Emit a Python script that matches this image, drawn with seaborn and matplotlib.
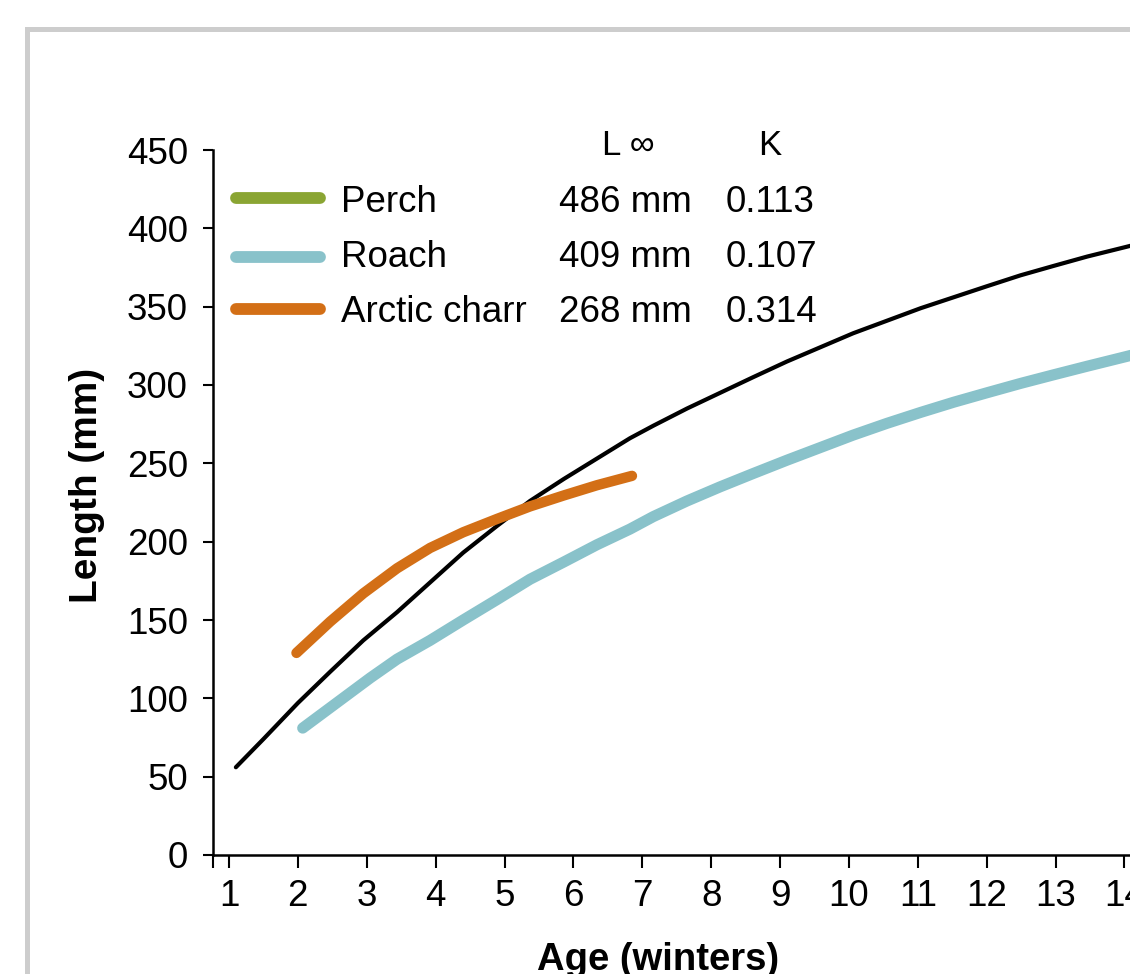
import numpy as np
import pandas as pd
import matplotlib
matplotlib.use("Agg")
import matplotlib.pyplot as plt
import seaborn as sns
from matplotlib.lines import Line2D
from matplotlib.patches import Rectangle

# ---- data ----
species = ["Perch", "Roach", "Arctic charr"]
linf_labels = ["486 mm", "409 mm", "268 mm"]
k_labels = ["0.113", "0.107", "0.314"]

perch_age = [1.10, 1.5, 2.0, 2.47, 2.95, 3.44, 3.92, 4.40, 4.89, 5.37, 5.86, 6.34,
             6.82, 7.16, 7.65, 8.13, 8.61, 9.10, 9.58, 10.06, 10.55, 11.04, 11.52,
             12.0, 12.49, 12.97, 13.46, 14.01, 14.1]
perch_len = [56, 74, 97, 117, 137, 155, 174, 193, 210, 226, 240, 253,
             266, 274, 285, 295, 305, 315, 324, 333, 341, 349, 356,
             363, 370, 376, 382, 388, 389]

roach_age = [2.07, 3.05, 3.44, 3.92, 4.40, 4.89, 5.37, 5.86, 6.34, 6.82, 7.16,
             7.65, 8.13, 8.61, 9.10, 9.58, 10.06, 10.55, 11.04, 11.52, 12.0,
             12.49, 12.97, 13.46, 14.01, 14.1]
roach_len = [81, 113, 125, 137, 150, 163, 176, 187, 198, 208, 216,
             226, 235, 243.5, 252, 260, 268, 275.5, 282.5, 289, 295,
             301, 306.5, 312, 318, 319]

charr_age = [1.98, 2.47, 2.95, 3.44, 3.92, 4.40, 4.89, 5.37, 5.86, 6.34, 6.85]
charr_len = [129, 149, 167, 183, 196, 206, 214.5, 222.5, 229.5, 236, 242]

x_ticks = list(range(1, 15))
y_ticks = list(range(0, 451, 50))

legend_colors = ["#8aa533", "#89c2ca", "#d36f16"]
line_colors = ["#000000", "#89c2ca", "#d36f16"]
line_widths = [3.0, 8.0, 7.5]

df = pd.concat([
    pd.DataFrame({"age": perch_age, "length": perch_len, "species": "Perch"}),
    pd.DataFrame({"age": roach_age, "length": roach_len, "species": "Roach"}),
    pd.DataFrame({"age": charr_age, "length": charr_len, "species": "Arctic charr"}),
])

# ---- style ----
sns.set_style("ticks")
plt.rcParams["font.family"] = ["Liberation Sans", "DejaVu Sans"]
plt.rcParams["text.color"] = "black"
plt.rcParams["axes.labelcolor"] = "black"
plt.rcParams["xtick.color"] = "black"
plt.rcParams["ytick.color"] = "black"

W, H = 1130, 974
fig = plt.figure(figsize=(W / 100, H / 100), dpi=100)

def fx(px):
    return px / W

def fy(py):
    return 1 - py / H

ax = fig.add_axes([fx(213), fy(855), (W - 213) / W, (855 - 150) / H])

for sp, col, lw in zip(species, line_colors, line_widths):
    sub = df[df["species"] == sp]
    sns.lineplot(data=sub, x="age", y="length", color=col, linewidth=lw,
                 solid_capstyle="round", solid_joinstyle="round",
                 ax=ax, legend=False, sort=False)

ax.set_xlim(0.768, 14.08)
ax.set_ylim(0, 450)
ax.set_xticks(x_ticks)
ax.set_xticklabels([str(t) for t in x_ticks])
ax.set_xticks([0.768], minor=True)
ax.set_yticks(y_ticks)
ax.set_yticklabels([str(t) for t in y_ticks])
ax.set_xlabel("")
ax.set_ylabel("")
sns.despine(ax=ax)
for s in ["left", "bottom"]:
    ax.spines[s].set_linewidth(1.8)
    ax.spines[s].set_color("black")
ax.tick_params(axis="y", length=7, width=1.5, pad=11, labelsize=26.5,
               colors="black")
ax.tick_params(axis="x", which="both", length=9, width=1.5, pad=8,
               labelsize=26.5, colors="black")

# axis titles
fig.text(fx(97), fy(485), "Length (mm)", rotation=90, rotation_mode="anchor",
         ha="center", va="baseline", fontsize=28, fontweight="bold")
fig.text(fx(658), fy(970), "Age (winters)", ha="center", va="baseline",
         fontsize=27.5, fontweight="bold")

# legend table
fig.text(fx(602), fy(155), "L \u221e", ha="left", va="baseline", fontsize=25)
fig.text(fx(758), fy(155), "K", ha="left", va="baseline", fontsize=25)
line_y = [198, 257, 309]
text_base = [212, 267, 322]
for i, sp in enumerate(species):
    fig.add_artist(Line2D([fx(236), fx(320)], [fy(line_y[i]), fy(line_y[i])],
                          transform=fig.transFigure, color=legend_colors[i],
                          linewidth=8.5, solid_capstyle="round"))
    fig.text(fx(341), fy(text_base[i]), sp, ha="left", va="baseline", fontsize=26.5)
    fig.text(fx(559), fy(text_base[i]), linf_labels[i], ha="left", va="baseline",
             fontsize=26.5)
    fig.text(fx(726), fy(text_base[i]), k_labels[i], ha="left", va="baseline",
             fontsize=26.5)

# outer gray frame (cropped)
fig.add_artist(Rectangle((fx(26.5), -0.2), 2.0, fy(28.5) + 0.2,
                         transform=fig.transFigure, fill=False,
                         edgecolor="#cdcdcd", linewidth=3.6))

fig.savefig("out.png", dpi=100)
